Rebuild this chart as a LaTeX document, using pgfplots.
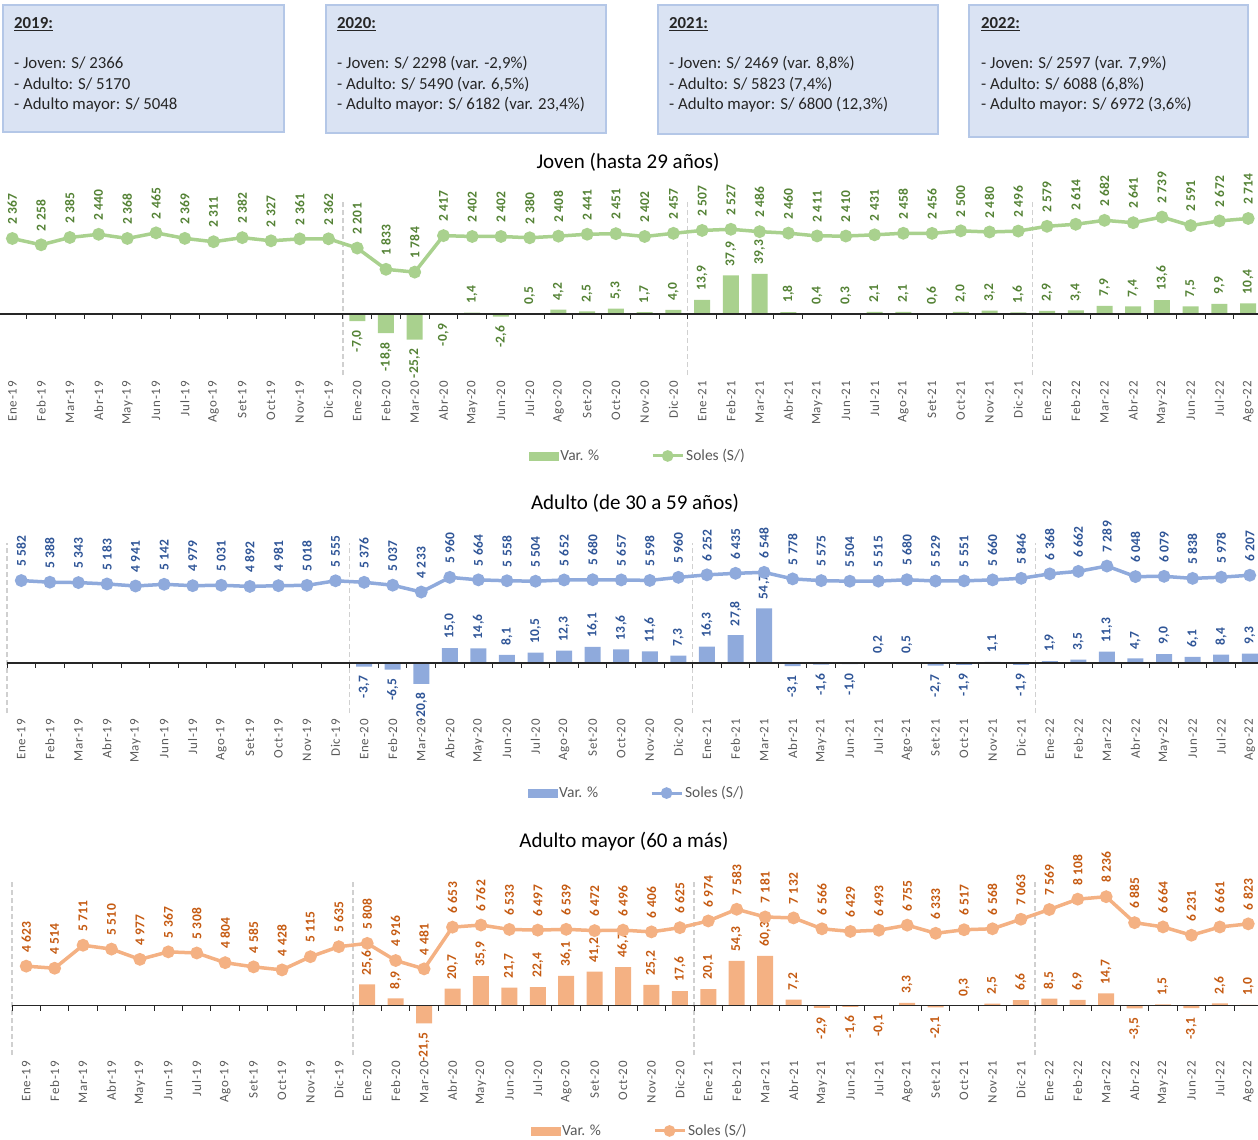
\documentclass[border=0pt]{standalone}
\usepackage{fontspec}
\setmainfont{Carlito}
\usepackage{pgfplots}
\pgfplotsset{compat=1.18}
\definecolor{jovenL}{HTML}{A9D18E}
\definecolor{jovenD}{HTML}{548235}
\definecolor{adultL}{HTML}{8FAADC}
\definecolor{adultD}{HTML}{2F5597}
\definecolor{mayorL}{HTML}{F4B183}
\definecolor{mayorD}{HTML}{C55A11}
\definecolor{boxfill}{HTML}{DAE3F3}
\definecolor{boxdraw}{HTML}{B4C7E7}
\definecolor{sepgray}{HTML}{D0D0D0}
\definecolor{tickgray}{HTML}{595959}
\newcommand\ticfont{\fontsize{13pt}{16pt}\selectfont\addfontfeatures{LetterSpace=6}}
\newcommand\lblfont{\fontsize{13.5pt}{16pt}\selectfont\addfontfeatures{LetterSpace=2}}
\newcommand\legfont{\fontsize{15.5pt}{18pt}\selectfont}
\newcommand\titfont{\fontsize{21pt}{24pt}\selectfont}
\newcommand\boxfont{\fontsize{16.8pt}{20pt}\selectfont}
\pgfplotsset{
 monthlabels/.style={xticklabels={Ene-19,Feb-19,Mar-19,Abr-19,May-19,Jun-19,Jul-19,Ago-19,Set-19,Oct-19,Nov-19,Dic-19,
 Ene-20,Feb-20,Mar-20,Abr-20,May-20,Jun-20,Jul-20,Ago-20,Set-20,Oct-20,Nov-20,Dic-20,
 Ene-21,Feb-21,Mar-21,Abr-21,May-21,Jun-21,Jul-21,Ago-21,Set-21,Oct-21,Nov-21,Dic-21,
 Ene-22,Feb-22,Mar-22,Abr-22,May-22,Jun-22,Jul-22,Ago-22}},
 baraxis/.style={scale only axis, anchor=south west, xmin=-0.5, xmax=43.5,
  axis line style={draw=none}, ytick=\empty, xtick={0,...,43}, monthlabels,
  major tick length=0pt,
  xticklabel style={rotate=90, anchor=east, inner sep=0pt, font=\ticfont, text=tickgray},
  xticklabel shift=6pt, clip=false,
  ybar, bar width=16pt, bar shift=0pt,
  point meta=rawy, nodes near coords,
  visualization depends on={rawy \as \rawy},
  nodes near coords style={font=\lblfont\bfseries, rotate=90, inner xsep=9pt, inner ysep=0pt,
    anchor=\ifdim\rawy pt<0pt east\else west\fi},
  /pgf/number format/fixed, /pgf/number format/fixed zerofill,
  /pgf/number format/precision=1, /pgf/number format/use comma,
  /pgf/number format/assume math mode=true},
 lineaxis/.style={scale only axis, anchor=south west, xmin=-0.5, xmax=43.5,
  hide axis, clip=false,
  point meta=rawy, nodes near coords,
  nodes near coords style={font=\lblfont\bfseries, rotate=90, anchor=west, inner xsep=12pt, inner ysep=0pt},
  /pgf/number format/fixed, /pgf/number format/precision=0,
  /pgf/number format/1000 sep={~}, /pgf/number format/assume math mode=true,
  legend style={draw=none, fill=none, legend columns=2, font=\legfont, text=tickgray, anchor=center,
   /tikz/every even column/.append style={column sep=50pt}}}
}
\begin{document}
\begin{tikzpicture}
\useasboundingbox (0pt,0pt) rectangle (1258pt,-1140pt);
% ---------- boxes ----------
\filldraw[fill=boxfill, draw=boxdraw, line width=1.3pt] (3pt,-5pt) rectangle (284pt,-132pt);
\filldraw[fill=boxfill, draw=boxdraw, line width=1.3pt] (326pt,-5pt) rectangle (606pt,-133pt);
\filldraw[fill=boxfill, draw=boxdraw, line width=1.3pt] (658pt,-5pt) rectangle (938pt,-134pt);
\filldraw[fill=boxfill, draw=boxdraw, line width=1.3pt] (969pt,-5pt) rectangle (1248pt,-137pt);
\begin{scope}[every node/.style={anchor=base west, inner sep=0pt, font=\boxfont, text=black!85}]
\node[font=\boxfont\bfseries] at (14pt,-29pt) {\underline{2019:}};
\node at (14pt,-68pt) {- Joven: S/ 2366};
\node at (14pt,-89pt) {- Adulto: S/ 5170};
\node at (14pt,-110pt) {- Adulto mayor: S/ 5048};
\node[font=\boxfont\bfseries] at (337pt,-29pt) {\underline{2020:}};
\node at (337pt,-68pt) {- Joven: S/ 2298 (var. -2,9\%)};
\node at (337pt,-89pt) {- Adulto: S/ 5490 (var. 6,5\%)};
\node at (337pt,-110pt) {- Adulto mayor: S/ 6182 (var. 23,4\%)};
\node[font=\boxfont\bfseries] at (669pt,-29pt) {\underline{2021:}};
\node at (669pt,-68pt) {- Joven: S/ 2469 (var. 8,8\%)};
\node at (669pt,-89pt) {- Adulto: S/ 5823 (7,4\%)};
\node at (669pt,-110pt) {- Adulto mayor: S/ 6800 (12,3\%)};
\node[font=\boxfont\bfseries] at (981pt,-29pt) {\underline{2022:}};
\node at (981pt,-68pt) {- Joven: S/ 2597 (var. 7,9\%)};
\node at (981pt,-89pt) {- Adulto: S/ 6088 (6,8\%)};
\node at (981pt,-110pt) {- Adulto mayor: S/ 6972 (3,6\%)};
\end{scope}
% ---------- titles ----------
\node[font=\titfont, text=black] at (628pt,-162pt) {Joven (hasta 29 años)};
\node[font=\titfont, text=black] at (635pt,-503pt) {Adulto (de 30 a 59 años)};
\node[font=\titfont, text=black] at (624pt,-842pt) {Adulto mayor (60 a más)};

% ================= Panel 1: Joven =================
\begin{axis}[baraxis, at={(-2pt,-375pt)}, width=1264.6pt, height=173pt, ymin=-60, ymax=110,
  nodes near coords style={text=jovenD}]
\pgfplotsinvokeforeach{-0.5,11.5,23.5,35.5}{\draw[sepgray, line width=1.3pt, dash pattern=on 5pt off 3pt] (#1,-60) -- (#1,110);}
\addplot[fill=jovenL, draw=none] coordinates {
(12,-7.0)(13,-18.8)(14,-25.2)(15,-0.9)(16,1.4)(17,-2.6)(18,0.5)(19,4.2)(20,2.5)(21,5.3)(22,1.7)(23,4.0)
(24,13.9)(25,37.9)(26,39.3)(27,1.8)(28,0.4)(29,0.3)(30,2.1)(31,2.1)(32,0.6)(33,2.0)(34,3.2)(35,1.6)
(36,2.9)(37,3.4)(38,7.9)(39,7.4)(40,13.6)(41,7.5)(42,9.9)(43,10.4)};
\draw[black!85, line width=1.3pt] (-0.5,0) -- (43.5,0);
\pgfplotsinvokeforeach{-0.5,0.5,...,43.5}{\draw[black!85, line width=1pt] (#1,0) -- ++(0pt,-5pt);}
\end{axis}
\begin{axis}[lineaxis, at={(-2pt,-375pt)}, width=1264.6pt, height=173pt, ymin=0, ymax=3000,
  nodes near coords style={text=jovenD}, legend style={at={(0.506,-0.468)}}]
\addlegendimage{legend image code/.code={\fill[jovenL] (0pt,-4pt) rectangle (29pt,4pt);}}
\addlegendentry{Var. \%}
\addplot[color=jovenL, line width=3.5pt, mark=*, mark size=4.6pt, mark options={draw=none, fill=jovenL},
  legend image code/.code={\draw[jovenL, line width=3pt] (0pt,0pt) -- (30pt,0pt); \fill[jovenL] (15pt,0pt) circle (4pt);}]
 coordinates {
(0,2367)(1,2258)(2,2385)(3,2440)(4,2368)(5,2465)(6,2369)(7,2311)(8,2382)(9,2327)(10,2361)(11,2362)
(12,2201)(13,1833)(14,1784)(15,2417)(16,2402)(17,2402)(18,2380)(19,2408)(20,2441)(21,2451)(22,2402)(23,2457)
(24,2507)(25,2527)(26,2486)(27,2460)(28,2411)(29,2410)(30,2431)(31,2458)(32,2456)(33,2500)(34,2480)(35,2496)
(36,2579)(37,2614)(38,2682)(39,2641)(40,2739)(41,2591)(42,2672)(43,2714)};
\addlegendentry{Soles (S/)}
\end{axis}

% ================= Panel 2: Adulto =================
\begin{axis}[baraxis, at={(7pt,-713pt)}, width=1257.1pt, height=170pt, ymin=-50, ymax=120,
  nodes near coords style={text=adultD}]
\pgfplotsinvokeforeach{-0.5,11.5,23.5,35.5}{\draw[sepgray, line width=1.3pt, dash pattern=on 5pt off 3pt] (#1,-50) -- (#1,120);}
\addplot[fill=adultL, draw=none] coordinates {
(12,-3.7)(13,-6.5)(14,-20.8)(15,15.0)(16,14.6)(17,8.1)(18,10.5)(19,12.3)(20,16.1)(21,13.6)(22,11.6)(23,7.3)
(24,16.3)(25,27.8)(26,54.7)(27,-3.1)(28,-1.6)(29,-1.0)(30,0.2)(31,0.5)(32,-2.7)(33,-1.9)(34,1.1)(35,-1.9)
(36,1.9)(37,3.5)(38,11.3)(39,4.7)(40,9.0)(41,6.1)(42,8.4)(43,9.3)};
\draw[black!85, line width=1.3pt] (-0.5,0) -- (43.5,0);
\pgfplotsinvokeforeach{-0.5,0.5,...,43.5}{\draw[black!85, line width=1pt] (#1,0) -- ++(0pt,-5pt);}
\end{axis}
\begin{axis}[lineaxis, at={(7pt,-713pt)}, width=1257.1pt, height=170pt, ymin=-10000, ymax=10000,
  nodes near coords style={text=adultD}, legend style={at={(0.501,-0.471)}}]
\addlegendimage{legend image code/.code={\fill[adultL] (0pt,-4pt) rectangle (29pt,4pt);}}
\addlegendentry{Var. \%}
\addplot[color=adultL, line width=3.5pt, mark=*, mark size=4.6pt, mark options={draw=none, fill=adultL},
  legend image code/.code={\draw[adultL, line width=3pt] (0pt,0pt) -- (30pt,0pt); \fill[adultL] (15pt,0pt) circle (4pt);}]
 coordinates {
(0,5582)(1,5388)(2,5343)(3,5183)(4,4941)(5,5142)(6,4979)(7,5031)(8,4892)(9,4981)(10,5018)(11,5555)
(12,5376)(13,5037)(14,4233)(15,5960)(16,5664)(17,5558)(18,5504)(19,5652)(20,5680)(21,5657)(22,5598)(23,5960)
(24,6252)(25,6435)(26,6548)(27,5778)(28,5575)(29,5504)(30,5515)(31,5680)(32,5529)(33,5551)(34,5660)(35,5846)
(36,6368)(37,6662)(38,7289)(39,6048)(40,6079)(41,5838)(42,5978)(43,6207)};
\addlegendentry{Soles (S/)}
\end{axis}

% ================= Panel 3: Adulto mayor =================
\begin{axis}[baraxis, at={(12pt,-1055pt)}, width=1250.5pt, height=173pt, ymin=-60, ymax=150,
  nodes near coords style={text=mayorD}]
\pgfplotsinvokeforeach{-0.5,11.5,23.5,35.5}{\draw[sepgray, line width=1.3pt, dash pattern=on 5pt off 3pt] (#1,-60) -- (#1,150);}
\addplot[fill=mayorL, draw=none] coordinates {
(12,25.6)(13,8.9)(14,-21.5)(15,20.7)(16,35.9)(17,21.7)(18,22.4)(19,36.1)(20,41.2)(21,46.7)(22,25.2)(23,17.6)
(24,20.1)(25,54.3)(26,60.3)(27,7.2)(28,-2.9)(29,-1.6)(30,-0.1)(31,3.3)(32,-2.1)(33,0.3)(34,2.5)(35,6.6)
(36,8.5)(37,6.9)(38,14.7)(39,-3.5)(40,1.5)(41,-3.1)(42,2.6)(43,1.0)};
\draw[black!85, line width=1.3pt] (-0.5,0) -- (43.5,0);
\pgfplotsinvokeforeach{-0.5,0.5,...,43.5}{\draw[black!85, line width=1pt] (#1,0) -- ++(0pt,-5pt);}
\end{axis}
\begin{axis}[lineaxis, at={(12pt,-1055pt)}, width=1250.5pt, height=173pt, ymin=0, ymax=9000,
  nodes near coords style={text=mayorD}, legend style={at={(0.502,-0.439)}}]
\addlegendimage{legend image code/.code={\fill[mayorL] (0pt,-4pt) rectangle (29pt,4pt);}}
\addlegendentry{Var. \%}
\addplot[color=mayorL, line width=3.5pt, mark=*, mark size=4.6pt, mark options={draw=none, fill=mayorL},
  legend image code/.code={\draw[mayorL, line width=3pt] (0pt,0pt) -- (30pt,0pt); \fill[mayorL] (15pt,0pt) circle (4pt);}]
 coordinates {
(0,4623)(1,4514)(2,5711)(3,5510)(4,4977)(5,5367)(6,5308)(7,4804)(8,4585)(9,4428)(10,5115)(11,5635)
(12,5808)(13,4916)(14,4481)(15,6653)(16,6762)(17,6533)(18,6497)(19,6539)(20,6472)(21,6496)(22,6406)(23,6625)
(24,6974)(25,7583)(26,7181)(27,7132)(28,6566)(29,6429)(30,6493)(31,6755)(32,6333)(33,6517)(34,6568)(35,7063)
(36,7569)(37,8108)(38,8236)(39,6885)(40,6664)(41,6231)(42,6661)(43,6823)};
\addlegendentry{Soles (S/)}
\end{axis}
\end{tikzpicture}
\end{document}
